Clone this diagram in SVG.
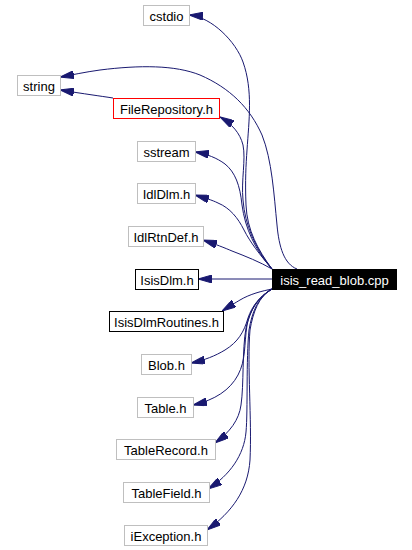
<svg xmlns="http://www.w3.org/2000/svg" width="412" height="550" viewBox="0 0 412 550">
<style>
.n rect{fill:#ffffff;stroke:#bfbfbf;stroke-width:1}
.n.red rect{stroke:#ff0000}
.n.blk rect{stroke:#000000}
.n.main rect{fill:#000000;stroke:#000000}
.n text{font-family:"Liberation Sans",Arial,sans-serif;font-size:13px;fill:#000000;text-anchor:middle}
.n.main text{fill:#ffffff}
.e path{fill:none;stroke:#191970;stroke-width:1;marker-end:url(#ah)}
</style>
<defs>
<marker id="ah" viewBox="0 0 14 8" refX="14" refY="4" markerWidth="14" markerHeight="8" markerUnits="userSpaceOnUse" orient="auto">
<path d="M0,0 L14,4 L0,8 z" fill="#191970" stroke="#191970" stroke-width="1"/>
</marker>
</defs>
<rect width="412" height="550" fill="#ffffff"/>
<g id="edges" class="e">
<path d="M272,269 C258,250 247,230 246,205 C245,180 246,165 247,150 C249,120 253,90 243,62 C236,42 212,17 189,15"/>
<path d="M297,269 C284,264 279,247 277,225 C274,195 272,160 262,135 C250,108 230,88 200,75 C175,65 140,65 100,70 C85,72 72,75 60,77"/>
<path d="M113,98 C100,96 85,94 60,90"/>
<path d="M272,269 C255,248 245,225 243,200 C241,180 246,160 243,145 C240,133 232,124 220,117"/>
<path d="M272,269 C255,250 245,228 242,205 C240,185 235,172 225,164 C217,158 207,154 195,152"/>
<path d="M272,269 C260,255 250,242 244,230 C238,218 230,208 218,203 C212,200 205,198 195,195"/>
<path d="M272,269 C260,262 245,256 232,251 C225,248 215,244 203,240"/>
<path d="M272,279 L198,279"/>
<path d="M272,289 C262,291 250,294 240,300 C235,303 230,306 222,311"/>
<path d="M272,289 C260,296 252,306 248,318 C244,332 238,342 225,350 C215,356 205,360 191,363"/>
<path d="M272,289 C258,297 250,310 247,325 C244,345 246,360 238,375 C230,390 215,400 193,405"/>
<path d="M272,289 C258,297 250,310 246,328 C242,350 244,385 241,405 C239,420 230,432 215,443"/>
<path d="M272,289 C258,297 252,312 249,330 C246,360 248,410 246,432 C244,455 230,475 208,489"/>
<path d="M272,289 C259,296 253,312 250,330 C247,365 252,420 250,460 C248,490 232,512 207,530"/>
</g>
<g id="n_cstdio" class="n"><rect x="143.5" y="5.5" width="46" height="20"/><text x="166.5" y="20.5">cstdio</text></g>
<g id="n_string" class="n"><rect x="17.5" y="75.5" width="43" height="20"/><text x="39" y="90.5">string</text></g>
<g id="n_FileRepository" class="n red"><rect x="113.5" y="98.5" width="106" height="20"/><text x="166.5" y="113.5">FileRepository.h</text></g>
<g id="n_sstream" class="n"><rect x="137.5" y="141.5" width="58" height="20"/><text x="166.5" y="156.5">sstream</text></g>
<g id="n_IdlDlm" class="n"><rect x="137.5" y="183.5" width="58" height="20"/><text x="166.5" y="198.5">IdlDlm.h</text></g>
<g id="n_IdlRtnDef" class="n"><rect x="128.5" y="226.5" width="75" height="20"/><text x="166" y="241.5">IdlRtnDef.h</text></g>
<g id="n_IsisDlm" class="n blk"><rect x="135.5" y="269.5" width="63" height="20"/><text x="167" y="284.5">IsisDlm.h</text></g>
<g id="n_main" class="n main"><rect x="272.5" y="269.5" width="124" height="20"/><text x="334.5" y="284.5">isis_read_blob.cpp</text></g>
<g id="n_IsisDlmRoutines" class="n blk"><rect x="109.5" y="311.5" width="114" height="20"/><text x="166.5" y="326.5">IsisDlmRoutines.h</text></g>
<g id="n_Blob" class="n"><rect x="141.5" y="354.5" width="50" height="20"/><text x="166.5" y="369.5">Blob.h</text></g>
<g id="n_Table" class="n"><rect x="137.5" y="397.5" width="56" height="20"/><text x="165.5" y="412.5">Table.h</text></g>
<g id="n_TableRecord" class="n"><rect x="116.5" y="439.5" width="99" height="20"/><text x="166" y="454.5">TableRecord.h</text></g>
<g id="n_TableField" class="n"><rect x="123.5" y="482.5" width="86" height="20"/><text x="166.5" y="497.5">TableField.h</text></g>
<g id="n_iException" class="n"><rect x="124.5" y="525.5" width="83" height="20"/><text x="166" y="540.5">iException.h</text></g>
</svg>
